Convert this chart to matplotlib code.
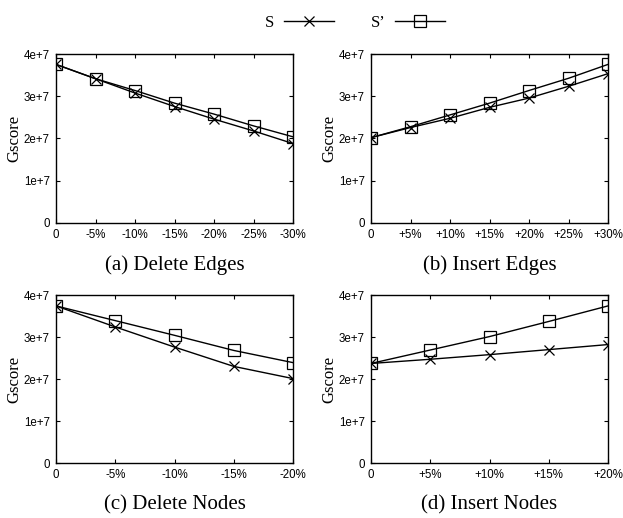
import numpy as np
import matplotlib.pyplot as plt

# x tick labels for each panel
del_edges_x = ["0", "-5%", "-10%", "-15%", "-20%", "-25%", "-30%"]
ins_edges_x = ["0", "+5%", "+10%", "+15%", "+20%", "+25%", "+30%"]
del_nodes_x = ["0", "-5%", "-10%", "-15%", "-20%"]
ins_nodes_x = ["0", "+5%", "+10%", "+15%", "+20%"]

# Gscore values (in units of 1e7)
del_edges_s = [3.76, 3.42, 3.08, 2.76, 2.46, 2.18, 1.88]
del_edges_s2 = [3.76, 3.42, 3.14, 2.84, 2.58, 2.30, 2.04]
ins_edges_s = [2.02, 2.26, 2.48, 2.74, 2.96, 3.24, 3.54]
ins_edges_s2 = [2.02, 2.28, 2.56, 2.84, 3.14, 3.43, 3.76]
del_nodes_s = [3.74, 3.24, 2.76, 2.30, 2.01]
del_nodes_s2 = [3.74, 3.39, 3.04, 2.68, 2.39]
ins_nodes_s = [2.37, 2.47, 2.58, 2.70, 2.82]
ins_nodes_s2 = [2.37, 2.69, 3.01, 3.37, 3.74]

captions = ["(a) Delete Edges", "(b) Insert Edges", "(c) Delete Nodes", "(d) Insert Nodes"]

serif = "Liberation Serif"
sans = "Liberation Sans"

fig = plt.figure(figsize=(6.23, 5.18), dpi=100)

W, H = 623.0, 518.0
boxes = [(56, 54.3, 293, 222.7), (371, 54.3, 608, 222.7),
         (56, 295, 293, 463), (371, 295, 608, 463)]

panels = [(del_edges_x, del_edges_s, del_edges_s2),
          (ins_edges_x, ins_edges_s, ins_edges_s2),
          (del_nodes_x, del_nodes_s, del_nodes_s2),
          (ins_nodes_x, ins_nodes_s, ins_nodes_s2)]

for (l, t, r, b), (labels, s, s2), cap in zip(boxes, panels, captions):
    ax = fig.add_axes([l / W, 1 - b / H, (r - l) / W, (b - t) / H])
    x = np.arange(len(labels))
    ys = np.array(s) * 1e7
    ys2 = np.array(s2) * 1e7
    h1, = ax.plot(x, ys, color="black", lw=1, marker="x", ms=7.5, mew=0.9, label="S")
    h2, = ax.plot(x, ys2, color="black", lw=1, marker="s", ms=8.5, mew=0.9,
                  mfc="none", label="S\u2019")
    ax.set_xlim(0, len(labels) - 1)
    ax.set_ylim(0, 4e7)
    ax.set_xticks(x)
    ax.set_xticklabels(labels, fontsize=8.3, family=sans)
    yt = [0, 1e7, 2e7, 3e7, 4e7]
    ax.set_yticks(yt)
    ax.set_yticklabels(["0", "1e+7", "2e+7", "3e+7", "4e+7"], fontsize=8.3, family=sans)
    ax.tick_params(direction="in", length=3, width=0.8, top=True, right=True, pad=4.5)
    for sp in ax.spines.values():
        sp.set_linewidth(1.0)
    ax.set_ylabel("Gscore", family=serif, fontsize=12, labelpad=1)
    ax.text(0.5, -0.25, cap, transform=ax.transAxes, ha="center", va="center",
            family=serif, fontsize=15)

leg = fig.legend([h1, h2], ["S", "S\u2019"], loc="upper center", bbox_to_anchor=(0.57, 1.0),
                 ncol=2, frameon=False, markerfirst=False, handlelength=3,
                 columnspacing=2.2, handletextpad=0.6,
                 prop={"family": serif, "size": 12})

fig.savefig("out.png", dpi=100)
